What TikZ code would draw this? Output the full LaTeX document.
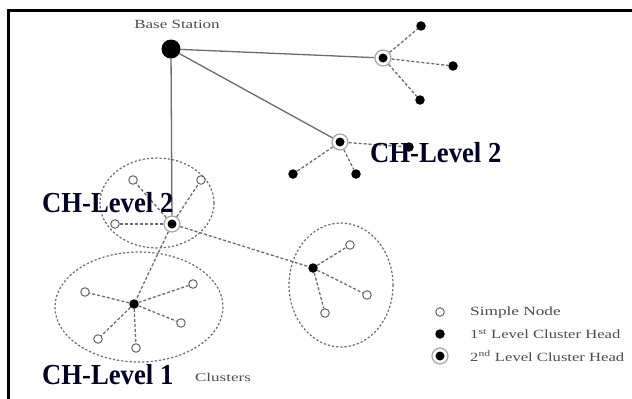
\documentclass[tikz,border=0pt]{standalone}
\usepackage{fontspec}
\usepackage{graphicx}
\setmainfont{Liberation Serif}
\usetikzlibrary{backgrounds}
\begin{document}
\begin{tikzpicture}[x=1pt,y=-1pt,
  simple/.style={circle,draw=gray!80!black,fill=white,line width=1pt,minimum size=8.5pt,inner sep=0pt},
  chone/.style={circle,fill=black,minimum size=9.5pt,inner sep=0pt},
  chtwo/.style={circle,draw=gray!70,line width=1.2pt,fill=white,minimum size=16pt,inner sep=0pt,
    path picture={\fill[black] (path picture bounding box.center) circle (4.5pt);}},
  basest/.style={circle,fill=black,minimum size=19pt,inner sep=0pt},
  solidlink/.style={draw=gray!85!black,line width=1.3pt},
  dashlink/.style={draw=gray!85!black,line width=1.3pt,dash pattern=on 3pt off 2pt},
  cluster/.style={draw=gray!85!black,line width=1.2pt,dash pattern=on 2.2pt off 2pt},
  biglabel/.style={font=\fontsize{29}{29}\selectfont\bfseries,text=black!85!blue,inner sep=0pt,anchor=west},
  smalllabel/.style={font=\fontsize{12.5}{12.5}\selectfont,text=gray!60!black,inner sep=0pt}
]
\useasboundingbox (0,0) rectangle (632,399);
% frame
\draw[line width=2.5pt] (632,10.5) -- (8.3,10.5) -- (8.3,399);

% base station
\node[basest] (bs) at (171,49) {};
\node[smalllabel] (bslabel) at (177,24) {\scalebox{1.36}[1]{Base Station}};

% top-right CH level 2
\node[chtwo] (tr) at (383,58) {};
\node[chone] (tr1) at (421,26) {};
\node[chone] (tr2) at (453,66) {};
\node[chone] (tr3) at (420,100) {};

% middle CH level 2
\node[chtwo] (mc) at (340,142) {};
\node[chone] (mc1) at (293,174) {};
\node[chone] (mc2) at (356,174) {};
\node[chone] (mc3) at (409,147) {};

% upper-left cluster
\node[chtwo] (ul) at (172,224) {};
\node[simple] (ul1) at (133,180) {};
\node[simple] (ul2) at (201,180) {};
\node[simple] (ul3) at (115,224) {};

% lower-left cluster
\node[chone] (ll) at (134,304) {};
\node[simple] (ll1) at (85,292) {};
\node[simple] (ll2) at (193,284) {};
\node[simple] (ll3) at (181,323) {};
\node[simple] (ll4) at (98,339) {};
\node[simple] (ll5) at (136,348) {};

% right cluster
\node[chone] (rc) at (313,268) {};
\node[simple] (rc1) at (350,245) {};
\node[simple] (rc2) at (367,295) {};
\node[simple] (rc3) at (325,313) {};

\begin{scope}[on background layer]
  \fill[white] (0,0) rectangle (632,399);
  \draw[cluster] (157,203) ellipse [x radius=57, y radius=45];
  \draw[cluster] (139,307) ellipse [x radius=84, y radius=55];
  \draw[cluster] (341,285) ellipse [x radius=52, y radius=62];

  \draw[solidlink] (bs) -- (tr);
  \draw[solidlink] (bs) -- (mc);
  \draw[solidlink] (bs) -- (ul);

  \draw[dashlink] (tr) -- (tr1);
  \draw[dashlink] (tr) -- (tr2);
  \draw[dashlink] (tr) -- (tr3);
  \draw[dashlink] (mc) -- (mc1);
  \draw[dashlink] (mc) -- (mc2);
  \draw[dashlink] (mc) -- (mc3);

  \draw[dashlink] (ul) -- (ul1);
  \draw[dashlink] (ul) -- (ul2);
  \draw[dashlink] (ul) -- (ul3);
  \draw[dashlink] (ul) -- (ll);
  \draw[dashlink] (ul) -- (rc);

  \draw[dashlink] (ll) -- (ll1);
  \draw[dashlink] (ll) -- (ll2);
  \draw[dashlink] (ll) -- (ll3);
  \draw[dashlink] (ll) -- (ll4);
  \draw[dashlink] (ll) -- (ll5);

  \draw[dashlink] (rc) -- (rc1);
  \draw[dashlink] (rc) -- (rc2);
  \draw[dashlink] (rc) -- (rc3);
\end{scope}

% big labels
\node[biglabel] (lab2a) at (370,153) {\scalebox{0.92}[1]{CH-Level 2}};
\node[biglabel] (lab2b) at (42,203) {\scalebox{0.92}[1]{CH-Level 2}};
\node[biglabel] (lab1) at (42,375) {\scalebox{0.92}[1]{CH-Level 1}};
\node[smalllabel,font=\fontsize{12}{12}\selectfont] (clus) at (223,377) {\scalebox{1.42}[1]{Clusters}};

% legend
\node[simple] (lg1) at (440,312) {};
\node[chone] (lg2) at (440,334) {};
\node[chtwo] (lg3) at (440,356) {};
\node[smalllabel,anchor=west] (lt1) at (470,312) {\scalebox{1.38}[1]{Simple Node}};
\node[smalllabel,anchor=west] (lt2) at (470,334) {\scalebox{1.33}[1]{1\textsuperscript{st} Level Cluster Head}};
\node[smalllabel,anchor=west] (lt3) at (470,356) {\scalebox{1.33}[1]{2\textsuperscript{nd} Level Cluster Head}};
\end{tikzpicture}
\end{document}
